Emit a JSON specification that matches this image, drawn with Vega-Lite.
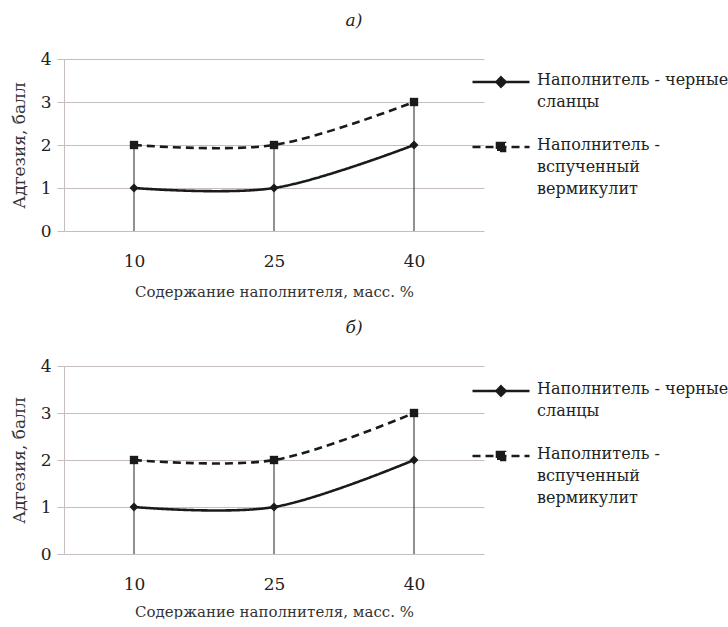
{
  "$schema": "https://vega.github.io/schema/vega-lite/v6.json",
  "background": "white",
  "padding": {"left": 10, "top": 12, "right": 0, "bottom": 0},
  "config": {
    "view": {"stroke": null},
    "font": "DejaVu Serif",
    "title": {"font": "DejaVu Serif", "fontStyle": "italic", "fontWeight": "normal", "fontSize": 17, "color": "#222"},
    "axis": {"labelFont": "DejaVu Serif", "titleFont": "DejaVu Serif", "titleFontWeight": "normal", "labelColor": "#222", "titleColor": "#333"},
    "legend": {"labelFont": "DejaVu Serif"}
  },
  "datasets": {
    "pts": [
      {"x": "10", "series": "Наполнитель - черные сланцы", "y": 1},
      {"x": "25", "series": "Наполнитель - черные сланцы", "y": 1},
      {"x": "40", "series": "Наполнитель - черные сланцы", "y": 2},
      {"x": "10", "series": "Наполнитель - вспученный вермикулит", "y": 2},
      {"x": "25", "series": "Наполнитель - вспученный вермикулит", "y": 2},
      {"x": "40", "series": "Наполнитель - вспученный вермикулит", "y": 3}
    ]
  },
  "spacing": 20,
  "resolve": {"scale": {"strokeDash": "independent"}, "legend": {"strokeDash": "independent"}},
  "vconcat": [
    {
      "title": {"text": "а)", "anchor": "middle", "dx": 80, "offset": 20},
      "width": 420,
      "height": 172,
      "data": {"name": "pts"},
      "encoding": {
        "x": {"field": "x", "type": "ordinal", "sort": ["10", "25", "40"],
          "scale": {"type": "point", "padding": 0.5},
          "axis": {"title": "Содержание наполнителя, масс. %", "titleFontSize": 15, "labelFontSize": 17, "labelAngle": 0, "ticks": false, "domain": false, "labelPadding": 22, "titlePadding": 15}},
        "y": {"field": "y", "type": "quantitative", "scale": {"domain": [0, 4]},
          "axis": {"title": "Адгезия, балл", "titleFontSize": 17, "labelFontSize": 17, "values": [0, 1, 2, 3, 4], "labelOverlap": false, "labelBound": false, "labelFlush": false, "gridColor": "#c6bebe", "gridOpacity": 1, "tickColor": "#c6bebe", "tickSize": 7, "domainColor": "#c6bebe", "labelPadding": 6, "titlePadding": 12}}
      },
      "layer": [
        {"mark": {"type": "rule", "color": "#222", "strokeWidth": 1},
          "encoding": {"y": {"aggregate": "max", "field": "y", "type": "quantitative"}, "y2": {"datum": 0}}},
        {"mark": {"type": "line", "interpolate": "cardinal", "tension": 0, "strokeWidth": 2.6, "color": "#1a1a1a"},
          "encoding": {"strokeDash": {"field": "series", "type": "nominal",
            "scale": {"domain": ["Наполнитель - черные сланцы", "Наполнитель - вспученный вермикулит"], "range": [[1, 0], [8, 5]]},
            "legend": {"title": null, "orient": "none", "legendX": 407, "legendY": -7, "symbolSize": 3249, "symbolStrokeWidth": 2.6, "symbolStrokeColor": "#1a1a1a", "symbolFillColor": "#1a1a1a", "labelFont": "DejaVu Serif", "labelFontSize": 16, "labelColor": "#222", "labelOffset": 6, "labelBaseline": "top", "rowPadding": 7, "labelLimit": 300,
              "labelExpr": "datum.label == 'Наполнитель - черные сланцы' ? ['Наполнитель - черные', 'сланцы'] : ['Наполнитель -', 'вспученный', 'вермикулит']",
              "encode": {
                "symbols": {"update": {"shape": {"signal": "datum.value == 'Наполнитель - черные сланцы' ? 'M-1,0H1M0,-0.16L0.16,0L0,0.16L-0.16,0Z' : 'M-1,0H1M-0.14,-0.14H0.14V0.14H-0.14Z'"}}},
                "labels": {"update": {"dy": {"value": -10}, "lineHeight": {"value": 22}, "font": {"value": "DejaVu Serif"}}}
              }}}}},
        {"transform": [{"filter": "datum.series == 'Наполнитель - черные сланцы'"}],
          "mark": {"type": "point", "shape": "diamond", "filled": true, "opacity": 1, "color": "#1a1a1a", "size": 80}},
        {"transform": [{"filter": "datum.series == 'Наполнитель - вспученный вермикулит'"}],
          "mark": {"type": "point", "shape": "square", "filled": true, "opacity": 1, "color": "#1a1a1a", "size": 70}}
      ]
    },
    {
      "title": {"text": "б)", "anchor": "middle", "dx": 80, "offset": 20},
      "width": 420,
      "height": 188,
      "data": {"name": "pts"},
      "encoding": {
        "x": {"field": "x", "type": "ordinal", "sort": ["10", "25", "40"],
          "scale": {"type": "point", "padding": 0.5},
          "axis": {"title": "Содержание наполнителя, масс. %", "titleFontSize": 15, "labelFontSize": 17, "labelAngle": 0, "ticks": false, "domain": false, "labelPadding": 22, "titlePadding": 12}},
        "y": {"field": "y", "type": "quantitative", "scale": {"domain": [0, 4]},
          "axis": {"title": "Адгезия, балл", "titleFontSize": 17, "labelFontSize": 17, "values": [0, 1, 2, 3, 4], "labelOverlap": false, "labelBound": false, "labelFlush": false, "gridColor": "#c6bebe", "gridOpacity": 1, "tickColor": "#c6bebe", "tickSize": 7, "domainColor": "#c6bebe", "labelPadding": 6, "titlePadding": 12}}
      },
      "layer": [
        {"mark": {"type": "rule", "color": "#222", "strokeWidth": 1},
          "encoding": {"y": {"aggregate": "max", "field": "y", "type": "quantitative"}, "y2": {"datum": 0}}},
        {"mark": {"type": "line", "interpolate": "cardinal", "tension": 0, "strokeWidth": 2.6, "color": "#1a1a1a"},
          "encoding": {"strokeDash": {"field": "series", "type": "nominal",
            "scale": {"domain": ["Наполнитель - черные сланцы", "Наполнитель - вспученный вермикулит"], "range": [[1, 0], [8, 5]]},
            "legend": {"title": null, "orient": "none", "legendX": 407, "legendY": -5, "symbolSize": 3249, "symbolStrokeWidth": 2.6, "symbolStrokeColor": "#1a1a1a", "symbolFillColor": "#1a1a1a", "labelFont": "DejaVu Serif", "labelFontSize": 16, "labelColor": "#222", "labelOffset": 6, "labelBaseline": "top", "rowPadding": 7, "labelLimit": 300,
              "labelExpr": "datum.label == 'Наполнитель - черные сланцы' ? ['Наполнитель - черные', 'сланцы'] : ['Наполнитель -', 'вспученный', 'вермикулит']",
              "encode": {
                "symbols": {"update": {"shape": {"signal": "datum.value == 'Наполнитель - черные сланцы' ? 'M-1,0H1M0,-0.16L0.16,0L0,0.16L-0.16,0Z' : 'M-1,0H1M-0.14,-0.14H0.14V0.14H-0.14Z'"}}},
                "labels": {"update": {"dy": {"value": -10}, "lineHeight": {"value": 22}, "font": {"value": "DejaVu Serif"}}}
              }}}}},
        {"transform": [{"filter": "datum.series == 'Наполнитель - черные сланцы'"}],
          "mark": {"type": "point", "shape": "diamond", "filled": true, "opacity": 1, "color": "#1a1a1a", "size": 80}},
        {"transform": [{"filter": "datum.series == 'Наполнитель - вспученный вермикулит'"}],
          "mark": {"type": "point", "shape": "square", "filled": true, "opacity": 1, "color": "#1a1a1a", "size": 70}}
      ]
    }
  ]
}
